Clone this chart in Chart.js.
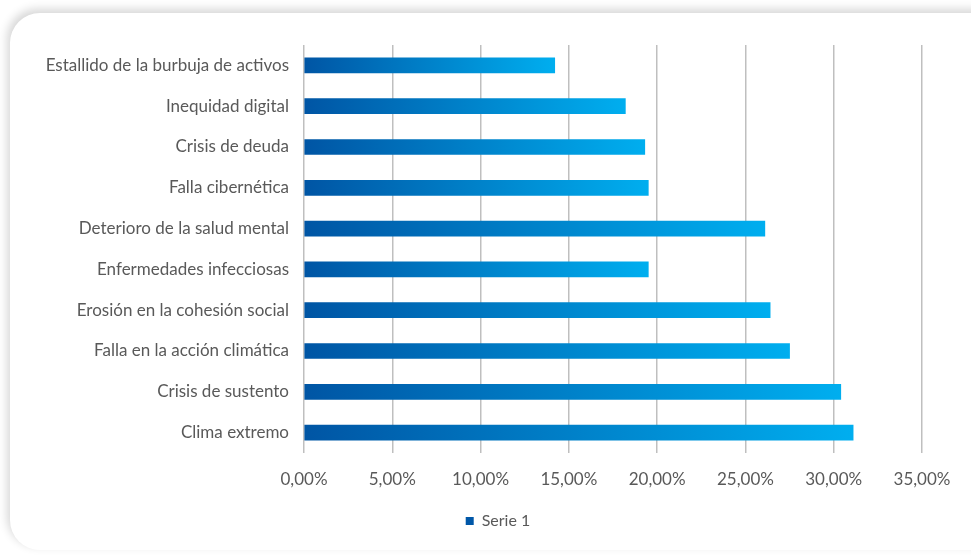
<!DOCTYPE html>
<html>
<head>
<meta charset="utf-8">
<script src="https://cdn.jsdelivr.net/npm/chart.js@4"></script>
<style>
    html, body { margin: 0; padding: 0; background: #ffffff; overflow: hidden; }
    #card {
        position: absolute; left: 10px; top: 13px; width: 1000px; height: 537px;
        background: #ffffff; border-radius: 30px;
        box-shadow: -3px -4px 10px rgba(0, 0, 0, 0.16);
    }
    #wrap { position: absolute; left: 0; top: 0; width: 971px; height: 556px; }
</style>
</head>
<body>
<div id="card"></div>
<div id="wrap"><canvas id="riskChart" width="971" height="556"></canvas></div>
<script>
const categories = [
    "Estallido de la burbuja de activos",
    "Inequidad digital",
    "Crisis de deuda",
    "Falla cibernética",
    "Deterioro de la salud mental",
    "Enfermedades infecciosas",
    "Erosión en la cohesión social",
    "Falla en la acción climática",
    "Crisis de sustento",
    "Clima extremo"
];
const serie1 = [14.2, 18.2, 19.3, 19.5, 26.1, 19.5, 26.4, 27.5, 30.4, 31.1];   // percent
const xTicks = [0, 5, 10, 15, 20, 25, 30, 35];

const textColor = '#595959';
const fontFamily = 'Lato, "Open Sans", sans-serif';
const legendColor = '#0057A8';

function barGradient(ctx) {                     // each bar fades dark -> light along its own length
    const chart = ctx.chart;
    if (!chart.chartArea || ctx.type !== 'data') return legendColor;
    const xs = chart.scales.x;
    const x0 = xs.getPixelForValue(0);
    const x1 = xs.getPixelForValue(ctx.raw);
    const g = chart.ctx.createLinearGradient(x0, 0, x1, 0);
    g.addColorStop(0, '#0055A4');
    g.addColorStop(1, '#00AEEF');
    return g;
}

const legendShift = {                           // centre the legend a bit right of the canvas middle
    id: 'legendShift',
    afterLayout(chart) {
        if (chart.legend) chart.legend.left = 74;
    }
};

new Chart(document.getElementById('riskChart'), {
    type: 'bar',
    data: {
        labels: categories,
        datasets: [{
            label: 'Serie 1',
            data: serie1,
            backgroundColor: barGradient,
            borderWidth: 0,
            barThickness: 15
        }]
    },
    plugins: [legendShift],
    options: {
        indexAxis: 'y',
        responsive: false,
        animation: false,
        layout: { padding: { top: 45, right: 49, left: 0, bottom: 17 } },
        plugins: {
            legend: {
                position: 'bottom',
                labels: {
                    boxWidth: 8, boxHeight: 8, padding: 10,
                    color: textColor,
                    font: { family: fontFamily, size: 16 },
                    generateLabels: (chart) => {
                        const items = Chart.defaults.plugins.legend.labels.generateLabels(chart);
                        items.forEach(it => { it.fillStyle = legendColor; it.strokeStyle = legendColor; it.lineWidth = 0; });
                        return items;
                    }
                }
            },
            tooltip: { enabled: false }
        },
        scales: {
            x: {
                min: 0, max: 35,
                afterBuildTicks: (scale) => { scale.ticks = xTicks.map(v => ({ value: v })); },
                afterFit: (scale) => { scale.height = 50; },
                border: { display: false },
                grid: { color: '#BFBFBF', lineWidth: 1.5, drawTicks: false },
                ticks: {
                    padding: 16,
                    color: textColor,
                    font: { family: fontFamily, size: 17 },
                    callback: (v) => v.toFixed(2).replace('.', ',') + '%'
                }
            },
            y: {
                afterFit: (scale) => { scale.width = 304; },
                border: { display: false },
                grid: { display: false, drawTicks: false },
                ticks: {
                    padding: 15,
                    color: textColor,
                    font: { family: fontFamily, size: 17 }
                }
            }
        }
    }
});
</script>
</body>
</html>
